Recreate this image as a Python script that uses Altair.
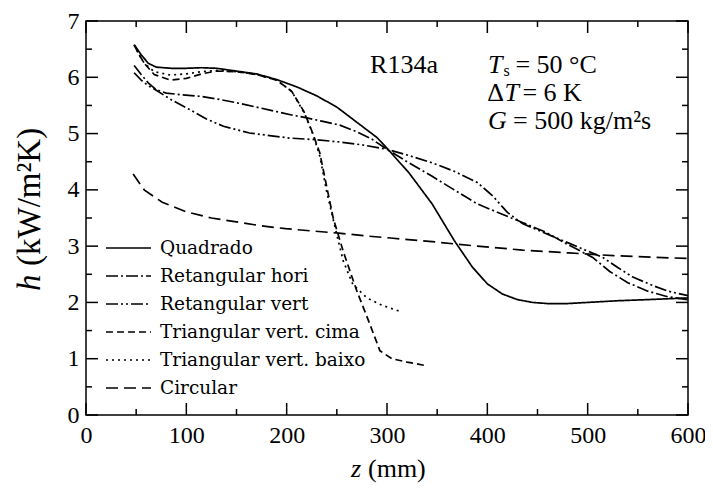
import altair as alt
import pandas as pd

# ---- data ----
names = ["Quadrado", "Retangular hori", "Retangular vert",
         "Triangular vert. cima", "Triangular vert. baixo", "Circular"]

quad_z = [48, 55, 62, 70, 85, 100, 115, 130, 150, 170, 190, 210, 230, 250, 270, 290, 300,
          322, 345, 367, 385, 400, 415, 430, 445, 460, 480, 500, 530, 560, 600]
quad_h = [6.58, 6.40, 6.25, 6.18, 6.16, 6.16, 6.17, 6.16, 6.11, 6.06, 5.96, 5.83, 5.67, 5.47,
          5.20, 4.93, 4.74, 4.30, 3.75, 3.10, 2.63, 2.33, 2.15, 2.05, 2.00, 1.98, 1.98, 2.00,
          2.03, 2.05, 2.08]

hori_z = [48, 55, 62, 70, 80, 95, 115, 135, 155, 175, 190, 205, 220, 235, 253, 270, 285, 300,
          320, 345, 367, 390, 413, 435, 458, 480, 505, 522, 540, 560, 580, 600]
hori_h = [6.21, 6.05, 5.90, 5.78, 5.72, 5.69, 5.66, 5.60, 5.53, 5.45, 5.39, 5.33, 5.28, 5.22,
          5.15, 5.03, 4.90, 4.72, 4.50, 4.24, 4.00, 3.75, 3.58, 3.42, 3.25, 3.03, 2.80, 2.55,
          2.35, 2.20, 2.10, 2.05]

vert_z = [48, 55, 62, 70, 85, 104, 120, 137, 163, 185, 203, 230, 253, 275, 300, 320, 345, 367,
          390, 405, 420, 435, 455, 475, 495, 515, 530, 545, 565, 580, 600]
vert_h = [6.08, 5.95, 5.85, 5.77, 5.60, 5.42, 5.26, 5.13, 5.01, 4.96, 4.92, 4.89, 4.85, 4.80,
          4.72, 4.62, 4.48, 4.33, 4.13, 3.90, 3.60, 3.40, 3.25, 3.10, 2.95, 2.80, 2.62, 2.45,
          2.30, 2.20, 2.12]

cima_z = [48, 53, 58, 68, 84, 100, 115, 130, 150, 170, 190, 205, 217, 225, 233, 240, 246.5,
          256.5, 270, 283, 293, 305, 320, 338]
cima_h = [6.57, 6.40, 6.25, 6.05, 5.95, 5.98, 6.06, 6.11, 6.10, 6.05, 5.95, 5.75, 5.40, 5.05,
          4.66, 4.05, 3.49, 2.90, 2.20, 1.61, 1.14, 1.00, 0.94, 0.88]

baixo_z = [48, 53, 58, 68, 84, 100, 115, 130, 150, 170, 190, 205, 218, 226, 233, 240, 250,
           256.5, 266, 280, 295, 313]
baixo_h = [6.57, 6.40, 6.25, 6.10, 6.04, 6.06, 6.10, 6.12, 6.10, 6.05, 5.95, 5.75, 5.35, 5.00,
           4.60, 3.96, 3.20, 2.73, 2.32, 2.08, 1.95, 1.84]

circ_z = [47, 58, 76, 100, 125, 150, 175, 199, 225, 252, 280, 306, 345, 390, 435, 481, 526, 600]
circ_h = [4.28, 4.00, 3.78, 3.61, 3.50, 3.43, 3.36, 3.31, 3.27, 3.23, 3.18, 3.14, 3.08, 3.00,
          2.93, 2.88, 2.83, 2.78]

dashes = [[1, 0], [12, 3, 2, 3], [12, 3, 2, 3, 2, 3], [7, 4], [2, 4], [12, 6]]

x_major = [0, 100, 200, 300, 400, 500, 600]
x_minor = [50, 150, 250, 350, 450, 550]
y_major = [0, 1, 2, 3, 4, 5, 6, 7]
y_minor = [0.5, 1.5, 2.5, 3.5, 4.5, 5.5, 6.5]

W, H = 602, 394
FONT = "Liberation Serif"

rows = []
for name, zs, hs in zip(names,
                        [quad_z, hori_z, vert_z, cima_z, baixo_z, circ_z],
                        [quad_h, hori_h, vert_h, cima_h, baixo_h, circ_h]):
    for i, (z, h) in enumerate(zip(zs, hs)):
        rows.append({"serie": name, "z": z, "h": h, "i": i})
df = pd.DataFrame(rows)

xscale = alt.Scale(domain=[0, 600], nice=False, zero=False)
yscale = alt.Scale(domain=[0, 7], nice=False, zero=False)
xaxis = alt.Axis(values=x_major, title=None, grid=False, ticks=False, domain=False,
                 labelFont=FONT, labelFontSize=24, labelColor="black",
                 labelPadding=8, labelFlush=False, labelAngle=0)
yaxis = alt.Axis(values=y_major, title=None, grid=False, ticks=False, domain=False,
                 labelFont=FONT, labelFontSize=24, labelColor="black",
                 labelPadding=7, labelFlush=False)
X = alt.X("z:Q", scale=xscale, axis=xaxis)
Y = alt.Y("h:Q", scale=yscale, axis=yaxis)

lines = alt.Chart(df).mark_line(color="black", strokeWidth=1.7).encode(
    x=X, y=Y,
    strokeDash=alt.StrokeDash(
        "serie:N", sort=names,
        scale=alt.Scale(domain=names, range=dashes),
        legend=alt.Legend(title=None, orient="none", legendX=19, legendY=213,
                          symbolType="stroke", symbolSize=2025, symbolStrokeWidth=1.7,
                          symbolStrokeColor="black", labelFont="DejaVu Serif",
                          labelFontSize=18.5, labelColor="black", clipHeight=28,
                          rowPadding=0, labelOffset=8, labelLimit=400, padding=0)),
    order="i:Q",
)

def tick_layer(vals, channel, size, side):
    d = pd.DataFrame({("z" if channel == "x" else "h"): vals})
    m = alt.Chart(d).mark_rule(color="black", strokeWidth=1.5)
    if channel == "x":
        enc = dict(x=X)
        if side == "bottom":
            enc.update(y=alt.value(H), y2=alt.value(H - size))
        else:
            enc.update(y=alt.value(0), y2=alt.value(size))
    else:
        enc = dict(y=Y)
        if side == "left":
            enc.update(x=alt.value(0), x2=alt.value(size))
        else:
            enc.update(x=alt.value(W), x2=alt.value(W - size))
    return m.encode(**enc)

ticks = [
    tick_layer(x_major, "x", 12, "bottom"), tick_layer(x_minor, "x", 6, "bottom"),
    tick_layer(x_major, "x", 12, "top"), tick_layer(x_minor, "x", 6, "top"),
    tick_layer(y_major, "y", 12, "left"), tick_layer(y_minor, "y", 6, "left"),
    tick_layer(y_major, "y", 12, "right"), tick_layer(y_minor, "y", 6, "right"),
]

# annotation pieces (text, z, h, size, style)
ann_text = ["R134a", "T", "s", "= 50 °C", "Δ", "T", "= 6 K", "G", "= 500 kg/m²s"]
ann_z = [317, 400.7, 416.0, 428.0, 400.0, 417.0, 435.0, 400.7, 425.6]
ann_h = [6.22, 6.22, 6.11, 6.22, 5.72, 5.72, 5.72, 5.22, 5.22]
ann_size = [26, 26, 16, 26, 26, 26, 26, 26, 26]
ann_style = ["normal", "italic", "normal", "normal", "normal", "italic", "normal", "italic", "normal"]
ann_align = ["center"] + ["left"] * 8

ann_layers = []
for t, z, h, s, st, al in zip(ann_text, ann_z, ann_h, ann_size, ann_style, ann_align):
    d = pd.DataFrame({"z": [z], "h": [h], "t": [t]})
    ann_layers.append(
        alt.Chart(d).mark_text(font=FONT, fontSize=s, fontStyle=st, align=al,
                               baseline="middle", color="black").encode(
            x=X, y=Y, text="t:N"))

# axis titles
title_text = ["z", "(mm)", "h", "(kW/m²K)"]
title_layers = [
    alt.Chart(pd.DataFrame({"t": [title_text[0]]})).mark_text(
        font=FONT, fontSize=26, fontStyle="italic", align="left", baseline="middle",
        color="black").encode(text="t:N", x=alt.value(265), y=alt.value(448)),
    alt.Chart(pd.DataFrame({"t": [title_text[1]]})).mark_text(
        font=FONT, fontSize=26, align="left", baseline="middle",
        color="black").encode(text="t:N", x=alt.value(282), y=alt.value(448)),
    alt.Chart(pd.DataFrame({"t": [title_text[2]]})).mark_text(
        font=FONT, fontSize=33, fontStyle="italic", align="left", baseline="middle",
        angle=270, color="black").encode(text="t:N", x=alt.value(-56), y=alt.value(270)),
    alt.Chart(pd.DataFrame({"t": [title_text[3]]})).mark_text(
        font=FONT, fontSize=33, align="left", baseline="middle",
        angle=270, color="black").encode(text="t:N", x=alt.value(-56), y=alt.value(245)),
]

chart = alt.layer(lines, *ticks, *ann_layers, *title_layers).properties(
    width=W, height=H,
    padding={"left": 78, "top": 13, "right": 17, "bottom": 68},
    autosize=alt.AutoSizeParams(type="none"),
    background="white",
).configure_view(stroke="black", strokeWidth=1.5)

chart.save("out.html", embed_options={"renderer": "svg", "actions": False})
